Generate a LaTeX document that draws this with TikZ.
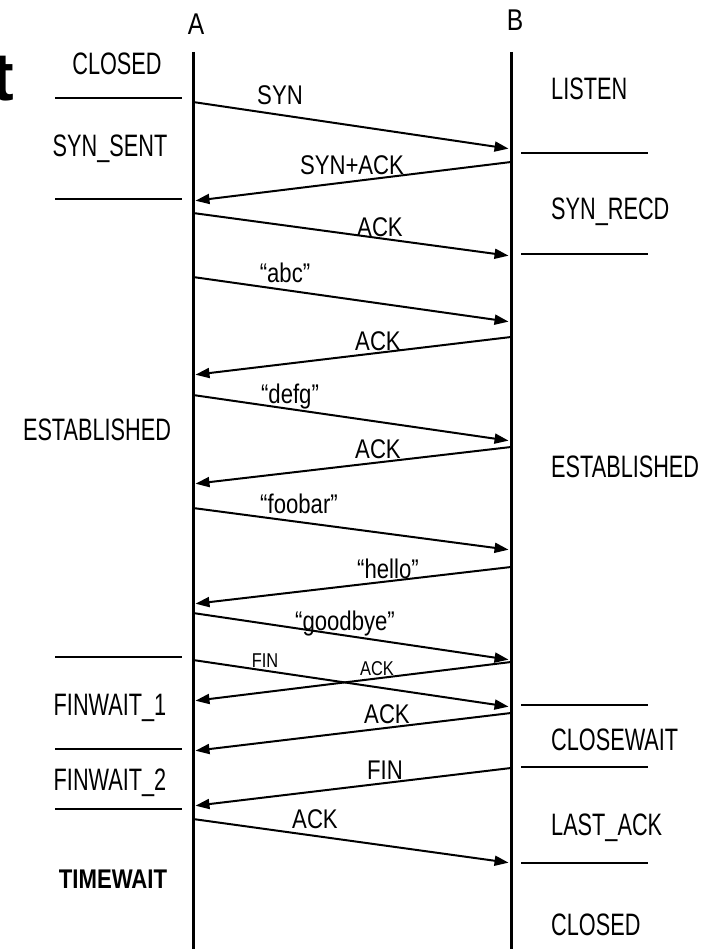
\documentclass[tikz,border=0pt]{standalone}
\usepackage{fontspec}
\setmainfont{Liberation Sans}
\newfontfamily\statefont[FakeStretch=0.70]{Liberation Sans}
\newfontfamily\msgfont[FakeStretch=0.82]{Liberation Sans}
\usetikzlibrary{arrows.meta}
\begin{document}
\begin{tikzpicture}[x=1pt,y=-1pt,
  life/.style={line width=3pt},
  sepline/.style={line width=2.5pt},
  msg/.style={line width=2pt,-{Triangle[length=14pt,width=10pt]},shorten >=2.5pt},
  st/.style={font=\statefont\fontsize{31}{31}\selectfont,inner sep=0pt},
  ml/.style={font=\msgfont\fontsize{27}{27}\selectfont,inner sep=0pt},
  sml/.style={font=\msgfont\fontsize{20}{20}\selectfont,inner sep=0pt},
  hd/.style={font=\msgfont\fontsize{30}{30}\selectfont,inner sep=0pt}]
\useasboundingbox (0,0) rectangle (708,949);
\begin{scope}
\clip (0,0) rectangle (708,949);
\node[anchor=base east,inner sep=0pt,font=\bfseries\fontsize{68}{68}\selectfont] (title) at (14,101) {t};
\end{scope}

% lifelines
\coordinate (Atop) at (193,52); \coordinate (Abot) at (193,949);
\coordinate (Btop) at (511,52); \coordinate (Bbot) at (511,949);
\draw[life] (Atop) -- (Abot);
\draw[life] (Btop) -- (Bbot);
\node[hd] (lblA) at (196,24) {A};
\node[hd] (lblB) at (515,20) {B};

% state separators A side
\foreach \i/\y in {1/98,2/199,3/657,4/749,5/809}{
  \coordinate (LL\i) at (55,\y); \coordinate (LR\i) at (182,\y);
  \draw[sepline] (LL\i) -- (LR\i);
}
% state separators B side
\foreach \i/\y in {1/153,2/254,3/705,4/767,5/863}{
  \coordinate (RL\i) at (521,\y); \coordinate (RR\i) at (648,\y);
  \draw[sepline] (RL\i) -- (RR\i);
}

% states A
\node[st,anchor=base] (sA1) at (117,75) {CLOSED};
\node[st,anchor=base] (sA2) at (110,157) {SYN\_SENT};
\node[st,anchor=base] (sA3) at (97,440) {ESTABLISHED};
\node[st,anchor=base] (sA4) at (110,715) {FINWAIT\_1};
\node[st,anchor=base] (sA5) at (110,790) {FINWAIT\_2};
\node[ml,anchor=base,font=\msgfont\bfseries\fontsize{27}{27}\selectfont] (sA6) at (113,888) {TIMEWAIT};
% states B
\node[st,anchor=base west] (sB1) at (551,100) {LISTEN};
\node[st,anchor=base west] (sB2) at (551,220) {SYN\_RECD};
\node[st,anchor=base west] (sB3) at (551,477) {ESTABLISHED};
\node[st,anchor=base west] (sB4) at (551,750) {CLOSEWAIT};
\node[st,anchor=base west] (sB5) at (551,835) {LAST\_ACK};
\node[st,anchor=base west] (sB6) at (551,935) {CLOSED};

% message end points
\coordinate (a1) at (193,102);  \coordinate (b1) at (511,149);
\coordinate (b2) at (511,162);  \coordinate (a2) at (193,201);
\coordinate (a3) at (193,213);  \coordinate (b3) at (511,256);
\coordinate (a4) at (193,277);  \coordinate (b4) at (511,322);
\coordinate (b5) at (511,337);  \coordinate (a5) at (193,375);
\coordinate (a6) at (193,395);  \coordinate (b6) at (511,441);
\coordinate (b7) at (511,447);  \coordinate (a7) at (193,484);
\coordinate (a8) at (193,508);  \coordinate (b8) at (511,550);
\coordinate (b9) at (511,567);  \coordinate (a9) at (193,604);
\coordinate (a10) at (193,613); \coordinate (b10) at (511,660);
\coordinate (a11) at (193,660); \coordinate (b11) at (511,707);
\coordinate (b12) at (511,662); \coordinate (a12) at (193,701);
\coordinate (b13) at (511,713); \coordinate (a13) at (193,751);
\coordinate (b14) at (511,768); \coordinate (a14) at (193,806);
\coordinate (a15) at (193,819); \coordinate (b15) at (511,863);

\draw[msg] (a1) -- (b1);
\draw[msg] (b2) -- (a2);
\draw[msg] (a3) -- (b3);
\draw[msg] (a4) -- (b4);
\draw[msg] (b5) -- (a5);
\draw[msg] (a6) -- (b6);
\draw[msg] (b7) -- (a7);
\draw[msg] (a8) -- (b8);
\draw[msg] (b9) -- (a9);
\draw[msg] (a10) -- (b10);
\draw[msg] (a11) -- (b11);
\draw[msg] (b12) -- (a12);
\draw[msg] (b13) -- (a13);
\draw[msg] (b14) -- (a14);
\draw[msg] (a15) -- (b15);

% message labels
\node[ml,anchor=base] (m1) at (280,105) {SYN};
\node[ml,anchor=base] (m2) at (352,175) {SYN+ACK};
\node[ml,anchor=base] (m3) at (380,237) {ACK};
\node[ml,anchor=base] (m4) at (285,283) {“abc”};
\node[ml,anchor=base] (m5) at (378,350) {ACK};
\node[ml,anchor=base] (m6) at (290,403) {“defg”};
\node[ml,anchor=base] (m7) at (378,458) {ACK};
\node[ml,anchor=base] (m8) at (299,513) {“foobar”};
\node[ml,anchor=base] (m9) at (388,578) {“hello”};
\node[ml,anchor=base] (m10) at (345,630) {“goodbye”};
\node[sml,anchor=base] (m11) at (265,667) {FIN};
\node[sml,anchor=base] (m12) at (377,675) {ACK};
\node[ml,anchor=base] (m13) at (387,723) {ACK};
\node[ml,anchor=base] (m14) at (385,779) {FIN};
\node[ml,anchor=base] (m15) at (315,828) {ACK};
\end{tikzpicture}
\end{document}
